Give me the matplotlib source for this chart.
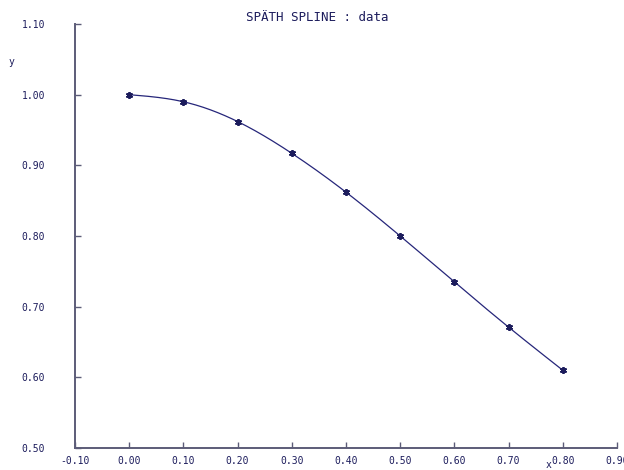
import numpy as np
from matplotlib import pyplot as plt

# data points
x_data = [0.0, 0.1, 0.2, 0.3, 0.4, 0.5, 0.6, 0.7, 0.8]
y_data = [1.000, 0.990, 0.962, 0.917, 0.862, 0.800, 0.735, 0.671, 0.610]

x_ticks = [-0.1, 0.0, 0.1, 0.2, 0.3, 0.4, 0.5, 0.6, 0.7, 0.8, 0.9]
y_ticks = [0.5, 0.6, 0.7, 0.8, 0.9, 1.0, 1.1]

title = "SPÄTH SPLINE : data"
ink = "#1c1c5c"
axis_col = "#5c5c78"


def natural_spline(xs, ys, n=300):
    # plain natural cubic spline through the points
    xs = np.asarray(xs, float)
    ys = np.asarray(ys, float)
    k = len(xs)
    h = np.diff(xs)
    A = np.zeros((k, k))
    b = np.zeros(k)
    A[0, 0] = A[-1, -1] = 1
    for i in range(1, k - 1):
        A[i, i - 1] = h[i - 1]
        A[i, i] = 2 * (h[i - 1] + h[i])
        A[i, i + 1] = h[i]
        b[i] = 6 * ((ys[i + 1] - ys[i]) / h[i] - (ys[i] - ys[i - 1]) / h[i - 1])
    m = np.linalg.solve(A, b)
    xx = np.linspace(xs[0], xs[-1], n)
    idx = np.clip(np.searchsorted(xs, xx) - 1, 0, k - 2)
    x0, x1 = xs[idx], xs[idx + 1]
    hh = x1 - x0
    t0, t1 = x1 - xx, xx - x0
    yy = (m[idx] * t0 ** 3 + m[idx + 1] * t1 ** 3) / (6 * hh) \
        + (ys[idx] / hh - m[idx] * hh / 6) * t0 \
        + (ys[idx + 1] / hh - m[idx + 1] * hh / 6) * t1
    return xx, yy


plt.rcParams['font.family'] = ['DejaVu Sans Mono']

fig = plt.figure(figsize=(6.24, 4.70), dpi=100)
ax = fig.add_axes([0.1202, 0.0468, 0.8686, 0.9021])

sx, sy = natural_spline(x_data, y_data)
ax.plot(sx, sy, color="#26267a", lw=0.9)
ax.plot(x_data, y_data, ls="none", marker=(6, 2, 0), ms=5, mew=1.3, color=ink)

ax.set_xlim(-0.1, 0.9)
ax.set_ylim(0.5, 1.1)
ax.set_xticks(x_ticks)
ax.set_yticks(y_ticks)
ax.set_xticklabels(["%.2f" % v for v in x_ticks])
ax.set_yticklabels(["%.2f" % v for v in y_ticks])

for s in ["top", "right"]:
    ax.spines[s].set_visible(False)
for s in ["left", "bottom"]:
    ax.spines[s].set_color(axis_col)
    ax.spines[s].set_linewidth(1.4)

ax.tick_params(direction="in", length=4, width=1, color=axis_col,
               labelsize=7, labelcolor=ink)
ax.tick_params(axis="y", pad=21.5)
ax.tick_params(axis="x", pad=6)

fig.text(0.014, 0.868, "y", fontsize=7, color=ink, ha="left", va="center")
fig.text(0.875, 0.0, "x", fontsize=7, color=ink, ha="left", va="bottom")
fig.text(0.509, 0.962, title, fontsize=9, color=ink, ha="center", va="center")

fig.savefig("out.png", dpi=100)
